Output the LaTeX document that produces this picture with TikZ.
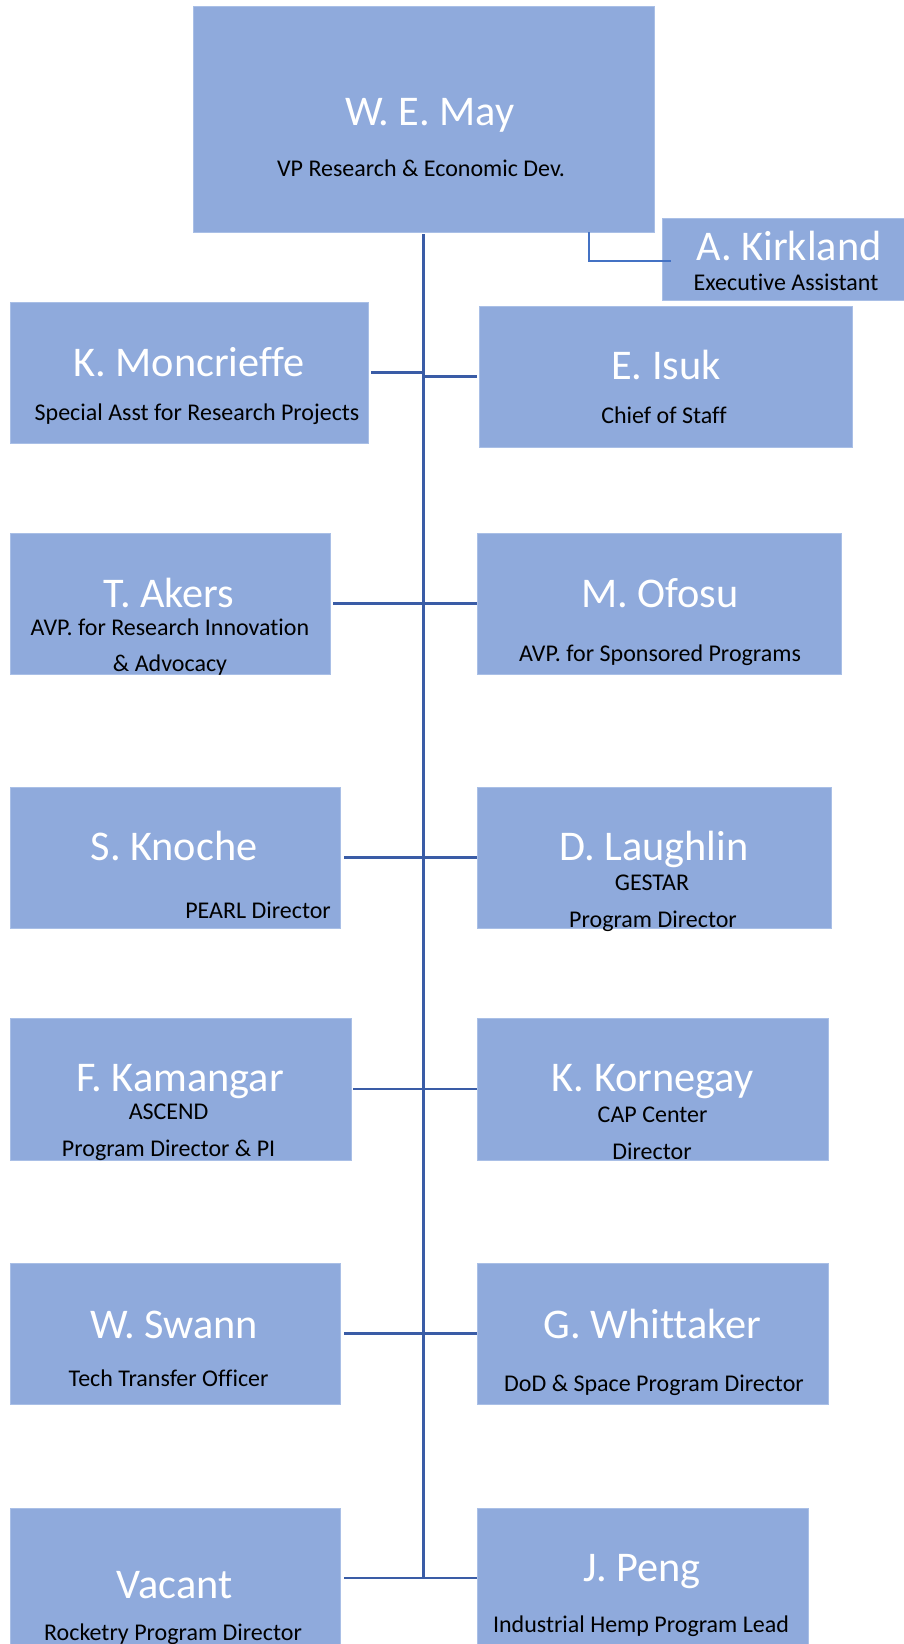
\documentclass[tikz,border=0pt]{standalone}
\usepackage{fontspec}
\setmainfont{Carlito}[Ligatures=CommonOff]
\definecolor{boxfill}{HTML}{8FAADC}
\definecolor{boxedge}{HTML}{A9BFE6}
\definecolor{trunk}{HTML}{3A5CA6}
\definecolor{kline}{HTML}{4472C4}
\tikzset{
  box/.style={fill=boxfill, draw=boxedge, line width=1pt, inner sep=0pt, outer sep=0pt, anchor=north west},
  nm/.style={anchor=base, inner sep=0pt, text=white, font=\fontsize{42.3}{50}\selectfont},
  sub/.style={anchor=base, inner sep=0pt, text=black, font=\fontsize{24}{29}\selectfont},
  link/.style={draw=trunk, line width=2.4pt},
}
\begin{document}
\begin{tikzpicture}[x=1pt,y=-1pt]
\useasboundingbox (0,0) rectangle (904,1644);
\clip (0,0) rectangle (904,1644);
% boxes
\node[box, minimum width=461pt, minimum height=226pt] (may) at (193,6) {};
\node[box, minimum width=246pt, minimum height=82pt] (kirk) at (662,218) {};
\node[box, minimum width=358pt, minimum height=141pt] (monc) at (10,302) {};
\node[box, minimum width=373pt, minimum height=141pt] (isuk) at (479,306) {};
\node[box, minimum width=320pt, minimum height=141pt] (akers) at (10,533) {};
\node[box, minimum width=364pt, minimum height=141pt] (ofosu) at (477,533) {};
\node[box, minimum width=330pt, minimum height=141pt] (knoche) at (10,787) {};
\node[box, minimum width=354pt, minimum height=141pt] (laugh) at (477,787) {};
\node[box, minimum width=341pt, minimum height=142pt] (kam) at (10,1018) {};
\node[box, minimum width=351pt, minimum height=142pt] (korn) at (477,1018) {};
\node[box, minimum width=330pt, minimum height=141pt] (swann) at (10,1263) {};
\node[box, minimum width=351pt, minimum height=141pt] (whit) at (477,1263) {};
\node[box, minimum width=330pt, minimum height=140pt] (vacant) at (10,1508) {};
\node[box, minimum width=331pt, minimum height=140pt] (peng) at (477,1508) {};
% texts
\node[nm] (mayn) at (430,125) {W. E. May};
\node[sub] (mays) at (421,176) {VP Research \& Economic Dev.};
\node[nm] (kirkn) at (789,260) {A. Kirkland};
\node[sub] (kirks) at (786,290) {Executive Assistant};
\node[nm] (moncn) at (189,376) {K. Moncrieffe};
\node[sub] (moncs) at (197,420) {Special Asst for Research Projects};
\node[nm] (isukn) at (666,379) {E. Isuk};
\node[sub] (isuks) at (664,423) {Chief of Staff};
\node[nm] (akersn) at (169,607) {T. Akers};
\node[sub] (akerss) at (170,635) {AVP. for Research Innovation};
\node[sub] (akerst) at (170,671) {\& Advocacy};
\node[nm] (ofosun) at (660,607) {M. Ofosu};
\node[sub] (ofosus) at (660,661) {AVP. for Sponsored Programs};
\node[nm] (knochen) at (174,860) {S. Knoche};
\node[sub, anchor=base east] (knoches) at (331,918) {PEARL Director};
\node[nm] (laughn) at (654,860) {D. Laughlin};
\node[sub] (laughs) at (652,890) {GESTAR};
\node[sub] (laught) at (653,927) {Program Director};
\node[nm] (kamn) at (180,1091) {F. Kamangar};
\node[sub] (kams) at (168.6,1119) {ASCEND};
\node[sub] (kamt) at (168.6,1156) {Program Director \& PI};
\node[nm] (kornn) at (652.6,1091) {K. Kornegay};
\node[sub] (korns) at (652.6,1122) {CAP Center};
\node[sub] (kornt) at (652,1159) {Director};
\node[nm] (swannn) at (174.4,1338) {W. Swann};
\node[sub] (swanns) at (168.6,1386) {Tech Transfer Officer};
\node[nm] (whitn) at (652.6,1338) {G. Whittaker};
\node[sub] (whits) at (654,1391) {DoD \& Space Program Director};
\node[nm] (vacantn) at (174.7,1598) {Vacant};
\node[sub] (vacants) at (173,1640) {Rocketry Program Director};
\node[nm] (pengn) at (642,1581) {J. Peng};
\node[sub] (pengs) at (641,1632) {Industrial Hemp Program Lead};
% connectors
\coordinate (ttop) at (423.5,234);
\coordinate (tbot) at (423.5,1578);
\draw[draw=trunk, line width=3.3pt] (ttop) -- (tbot);
\coordinate (kc) at (589,232);
\draw[draw=kline, line width=2pt] (kc) |- ([xshift=9pt,yshift=-2pt]kirk.west);
\draw[link] ([xshift=3pt]monc.east) -- (monc.east -| ttop);
\draw[link] (isuk.west -| ttop) -- ([xshift=-2pt]isuk.west);
\draw[link] ([xshift=3pt]akers.east) -- (akers.east -| ttop);
\draw[link] (akers.east -| ttop) -- (ofosu.west |- akers.east);
\draw[link] ([xshift=4pt]knoche.east) -- (knoche.east -| ttop);
\draw[link] (knoche.east -| ttop) -- (laugh.west |- knoche.east);
\draw[link] ([xshift=2pt]kam.east) -- (kam.east -| ttop);
\draw[link] (kam.east -| ttop) -- (korn.west |- kam.east);
\draw[link] ([xshift=4pt]swann.east) -- (swann.east -| ttop);
\draw[link] (swann.east -| ttop) -- (whit.west |- swann.east);
\draw[link] ([xshift=4pt]vacant.east |- tbot) -- (tbot);
\draw[link] (tbot) -- (peng.west |- tbot);
\end{tikzpicture}
\end{document}
